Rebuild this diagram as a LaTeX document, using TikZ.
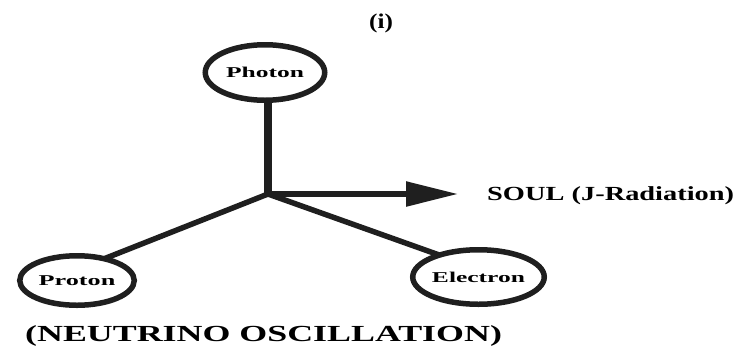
\documentclass[tikz,border=0pt]{standalone}
\usepackage{fontspec}
\setmainfont{Liberation Serif}
\usetikzlibrary{shapes.geometric,arrows.meta,calc,backgrounds}
\newcommand{\wide}[2]{\scalebox{#1}[1]{#2}}
\begin{document}
\begin{tikzpicture}[x=1pt,y=-1pt,
  particle/.style={draw=black!88,fill=white,line width=5.5pt,ellipse,font=\bfseries\fontsize{15}{15}\selectfont,inner sep=0pt},
  link/.style={draw=black!88,line width=5.5pt}]
\useasboundingbox (0,0) rectangle (737,349);
\node[font=\bfseries\fontsize{21}{21}\selectfont] (title) at (381,23) {\wide{1.2}{(i)}};
\node[particle, minimum width=119.5pt, minimum height=55.5pt] (photon) at (265,72.5) {\wide{1.7}{Photon}};
\node[particle, minimum width=114.5pt, minimum height=49.5pt] (proton) at (77,280.5) {\wide{1.75}{Proton}};
\node[particle, minimum width=117.5pt, minimum height=54.5pt] (electron) at (478.5,277) {\wide{1.7}{Electron}};
\coordinate (j) at (268,194);
\coordinate (tip) at (458,194);
\node[anchor=base west,font=\bfseries\fontsize{20}{20}\selectfont,inner sep=0pt] (soul) at (487,200) {\wide{1.42}{SOUL (J-Radiation)}};
\node[anchor=base west,font=\bfseries\fontsize{23}{23}\selectfont,inner sep=0pt] (caption) at (25,341.5) {\wide{1.56}{(NEUTRINO OSCILLATION)}};
\begin{scope}[on background layer]
\draw[link,line width=8.5pt] (photon.center -| j) -- ([yshift=1pt]j);
\draw[link] (j) -- ($(proton.center)+(0,-11)$);
\draw[link] (j) -- ($(electron.center)+(0,-8)$);
\end{scope}
\draw[link,-{Triangle[length=52pt,width=24pt]}] ([xshift=-4pt]j) -- (tip);
\end{tikzpicture}
\end{document}
